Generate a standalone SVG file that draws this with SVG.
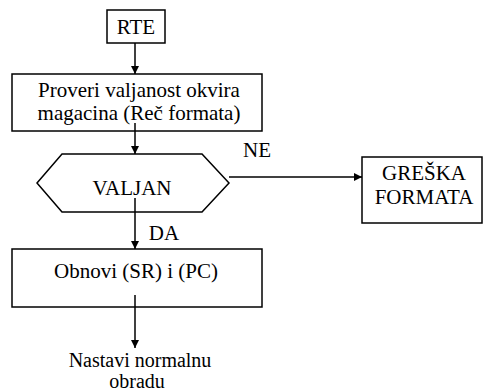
<svg xmlns="http://www.w3.org/2000/svg" width="485" height="392" viewBox="0 0 485 392">
  <defs>
    <marker id="arrow" viewBox="0 0 10 10" refX="10" refY="5" markerWidth="8" markerHeight="8" markerUnits="userSpaceOnUse" orient="auto">
      <path d="M0,0 L10,5 L0,10 z" fill="#000"/>
    </marker>
    <style>
      .box { fill: #fff; stroke: #000; stroke-width: 1.5; }
      .lbl { font-family: "Liberation Serif", "Times New Roman", serif; font-size: 21px; fill: #000; text-anchor: middle; }
      .end { font-size: 20px; }
      .edge { stroke: #000; stroke-width: 1.5; fill: none; marker-end: url(#arrow); }
    </style>
  </defs>
  <rect width="485" height="392" fill="#fff"/>

  <g id="rte">
    <rect class="box" x="107" y="10" width="58" height="33"/>
    <text class="lbl" x="136" y="34">RTE</text>
  </g>

  <g id="check">
    <rect class="box" x="12" y="74" width="250" height="57"/>
    <text class="lbl" x="139" y="97">Proveri valjanost okvira</text>
    <text class="lbl" x="139" y="120">magacina (Reč formata)</text>
  </g>

  <g id="valid">
    <polygon class="box" points="37,183 62,154 202,154 229,183 202,212 62,212"/>
    <text class="lbl" x="132" y="195">VALJAN</text>
  </g>

  <g id="error">
    <rect class="box" x="362" y="157" width="120" height="66"/>
    <text class="lbl" x="424" y="180">GREŠKA</text>
    <text class="lbl" x="424" y="204">FORMATA</text>
  </g>

  <g id="restore">
    <rect class="box" x="12" y="249" width="250" height="58"/>
    <text class="lbl" x="136" y="278">Obnovi (SR) i (PC)</text>
  </g>

  <g id="resume">
    <text class="lbl end" x="140" y="367">Nastavi normalnu</text>
    <text class="lbl end" x="137" y="388">obradu</text>
  </g>

  <g id="connectors">
    <line class="edge" x1="135" y1="43" x2="135" y2="74"/>
    <line class="edge" x1="135" y1="123" x2="135" y2="154"/>
    <line class="edge" x1="229" y1="177" x2="362" y2="177"/>
    <line class="edge" x1="135" y1="198" x2="135" y2="249"/>
    <line class="edge" x1="135" y1="295" x2="135" y2="348"/>
    <text class="lbl" x="257" y="157">NE</text>
    <text class="lbl" x="164" y="240">DA</text>
  </g>
</svg>
